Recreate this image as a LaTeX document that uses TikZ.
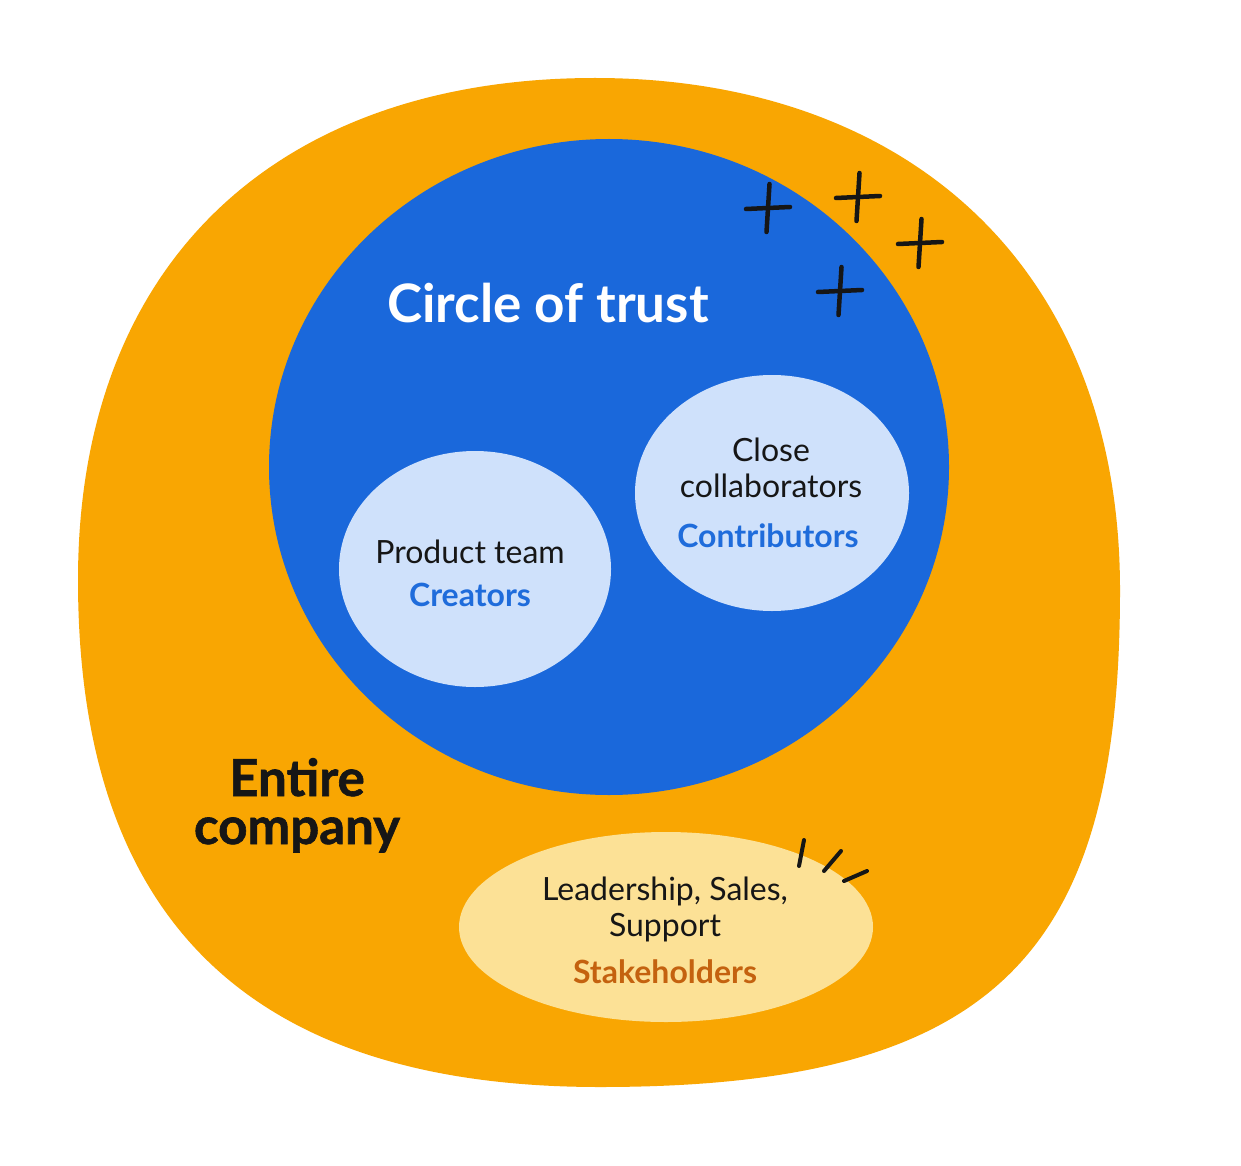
\documentclass[tikz,border=0pt]{standalone}
\usepackage{fontspec}
\setmainfont{Lato}
\definecolor{orangeC}{HTML}{F9A602}
\definecolor{blueC}{HTML}{1A68DB}
\definecolor{lightblueC}{HTML}{CFE1FB}
\definecolor{lightyellowC}{HTML}{FCE196}
\definecolor{bluetext}{HTML}{1F6CDB}
\definecolor{browntext}{HTML}{C4620F}
\definecolor{inkC}{HTML}{161616}
\begin{document}
\begin{tikzpicture}[x=1pt,y=-1pt,
  sparkline/.style={draw=inkC,line width=4.5pt,line cap=round},
  tick/.style={draw=inkC,line width=4pt,line cap=round},
  bodytxt/.style={text=inkC,font=\fontsize{32}{36}\selectfont,inner sep=0pt,anchor=base},
  bluelbl/.style={text=bluetext,font=\fontsize{32}{36}\selectfont\bfseries,inner sep=0pt,anchor=base},
  bigtxt/.style={text=inkC,font=\fontsize{51}{56}\selectfont\bfseries\addfontfeature{FakeBold=1.2},inner sep=0pt,anchor=base},
  sparkle/.pic={\draw[sparkline] (-22,1) -- (22,-1); \draw[sparkline] (1.5,-24) -- (-1.5,24);}
]
\useasboundingbox (0,0) rectangle (1241,1166);
\fill[white] (0,0) rectangle (1241,1166);
% outer blob
\fill[orangeC] (595,78) .. controls (900,78) and (1120,260) .. (1120,590)
  .. controls (1120,950) and (1000,1087) .. (600,1087)
  .. controls (250,1087) and (78,920) .. (78,580)
  .. controls (78,260) and (280,78) .. cycle;
% circle of trust
\fill[blueC] (609,467) ellipse [x radius=340, y radius=328];
% inner blobs
\fill[lightblueC] (475,569) ellipse [x radius=136, y radius=118];
\fill[lightblueC] (772,493) ellipse [x radius=137, y radius=118];
\fill[lightyellowC] (666,927) ellipse [x radius=207, y radius=95];
% sparkles
\pic at (768,208) {sparkle};
\pic at (858,197) {sparkle};
\pic at (920,243) {sparkle};
\pic at (840,291) {sparkle};
% ticks
\coordinate (t1a) at (804,840); \coordinate (t1b) at (799,866);
\coordinate (t2a) at (841,851); \coordinate (t2b) at (824,871);
\coordinate (t3a) at (867,871); \coordinate (t3b) at (844,881);
\draw[tick] (t1a) -- (t1b);
\draw[tick] (t2a) -- (t2b);
\draw[tick] (t3a) -- (t3b);
% texts
\node[text=white,font=\fontsize{53}{60}\selectfont\bfseries,inner sep=0pt,anchor=base] (cot) at (548,322) {Circle of trust};
\node[bodytxt] (close) at (771,461) {Close};
\node[bodytxt] (collab) at (771,497) {collaborators};
\node[bluelbl] (contrib) at (768,547) {Contributors};
\node[bodytxt] (prod) at (470,563) {Product team};
\node[bluelbl] (creat) at (470,606) {Creators};
\node[bigtxt] (entire) at (297,796) {Entire};
\node[bigtxt] (company) at (297,844) {company};
\node[bodytxt] (lead) at (665,900) {Leadership, Sales,};
\node[bodytxt] (supp) at (665,936) {Support};
\node[text=browntext,font=\fontsize{32}{36}\selectfont\bfseries,inner sep=0pt,anchor=base] (stake) at (665,983) {Stakeholders};
\end{tikzpicture}
\end{document}
